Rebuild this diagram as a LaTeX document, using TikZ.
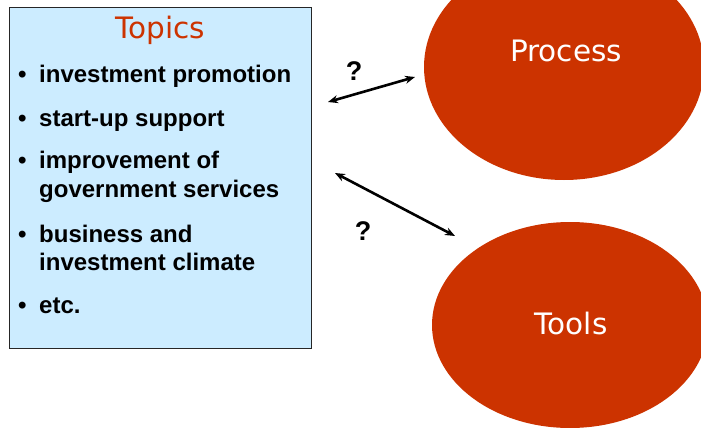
\documentclass[tikz,border=0pt]{standalone}
\usepackage{fontspec}
\setmainfont{Liberation Sans}
\newfontfamily\titlefont{DejaVu Sans}
\usetikzlibrary{shapes.geometric,arrows.meta}
\definecolor{boxblue}{RGB}{204,236,255}
\definecolor{rust}{RGB}{204,51,0}
\tikzset{
  itemtext/.style={anchor=base west,inner sep=0pt,font=\fontsize{24}{28}\selectfont\bfseries},
  bulletdot/.style={anchor=base west,inner sep=0pt,font=\fontsize{24}{28}\selectfont\bfseries},
  blob/.style={ellipse,fill=rust,draw=none,inner sep=0pt},
  blobtext/.style={anchor=base,inner sep=0pt,text=white,font=\titlefont\fontsize{29.5}{34}\selectfont},
  qmark/.style={anchor=base,inner sep=0pt,font=\fontsize{27}{30}\selectfont\bfseries},
  link/.style={line width=2.6pt,{Stealth[length=10pt,width=8pt]}-{Stealth[length=10pt,width=8pt]}}
}
\begin{document}
\begin{tikzpicture}[x=1pt,y=-1pt]
\path[use as bounding box,clip] (0,0) rectangle (701,428);
\fill[white] (0,0) rectangle (701,428);
% topics box
\node[draw=black!85,line width=1.2pt,fill=boxblue,minimum width=302pt,minimum height=341pt,inner sep=0pt,anchor=north west] (box) at (9,7) {};
\node[blobtext,text=rust] (title) at (160,38) {Topics};
\foreach \n/\y in {b1/82,b2/126,b3/168,b4/242,b5/313}{
  \node[bulletdot] (\n) at (18,\y) {•};
}
\node[itemtext] (i1) at (39,82) {investment promotion};
\node[itemtext] (i2) at (39,126) {start-up support};
\node[itemtext] (i3a) at (39,168) {improvement of};
\node[itemtext] (i3b) at (39,197) {government services};
\node[itemtext] (i4a) at (39,242) {business and};
\node[itemtext] (i4b) at (39,270) {investment climate};
\node[itemtext] (i5) at (39,313) {etc.};
% ellipses
\node[blob,minimum width=280pt,minimum height=226pt] (process) at (564,67) {};
\node[blobtext] (plabel) at (566,62) {Process};
\node[blob,minimum width=276pt,minimum height=206pt] (tools) at (570,325) {};
\node[blobtext] (tlabel) at (571,334) {Tools};
% arrows
\coordinate (a1s) at (328,102);
\coordinate (a1e) at (415,77);
\coordinate (a2s) at (335,173);
\coordinate (a2e) at (455,236);
\draw[link] (a1s) -- (a1e);
\draw[link] (a2s) -- (a2e);
\node[qmark] (q1) at (354,80) {?};
\node[qmark] (q2) at (363,240) {?};
\end{tikzpicture}
\end{document}
